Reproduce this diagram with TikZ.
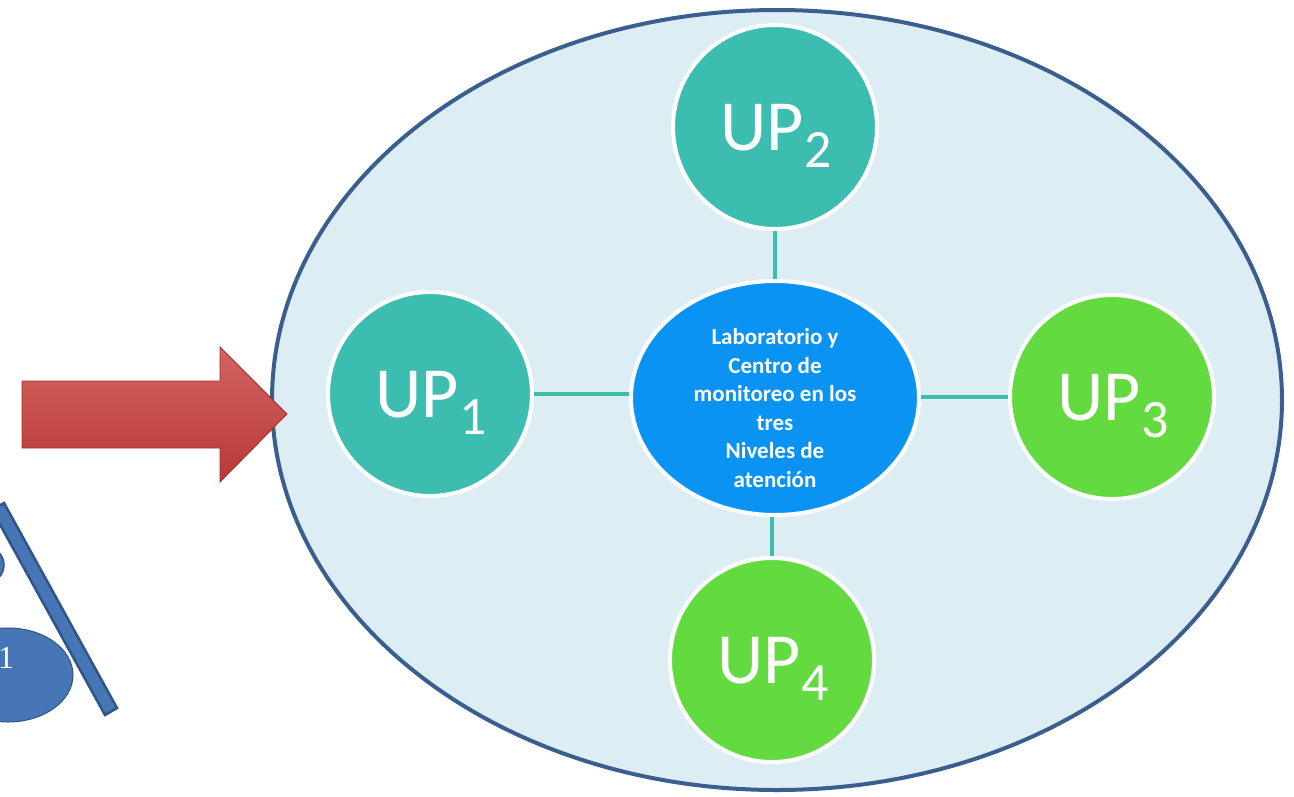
\documentclass[tikz,border=0pt]{standalone}
\usepackage{fontspec}
\setmainfont{Carlito}
\newfontfamily\serifone{Liberation Serif}
\usetikzlibrary{shapes.geometric}
\definecolor{bgblue}{HTML}{DCEEF3}
\definecolor{rimblue}{HTML}{3A5F8F}
\definecolor{teal}{HTML}{3CBDB0}
\definecolor{lime}{HTML}{62DA40}
\definecolor{hubblue}{HTML}{0A93F2}
\definecolor{arrowred}{HTML}{C83D3A}
\definecolor{arrowdark}{HTML}{9E2E2B}
\definecolor{bandblue}{HTML}{4776B6}
\definecolor{banddark}{HTML}{2F5588}
\tikzset{
  upcircle/.style={circle, minimum size=204pt, inner sep=0pt, draw=white, line width=4pt},
  uplabel/.style={text=white, font=\fontsize{72}{72}\selectfont, anchor=base, inner sep=0pt},
  link/.style={draw=teal, line width=4pt},
  hub/.style={ellipse, minimum width=288pt, minimum height=234pt, inner sep=0pt, fill=hubblue, draw=white, line width=4pt},
}
\newcommand{\upsub}[1]{UP\raisebox{-17pt}{\fontsize{54}{54}\selectfont #1}}
\begin{document}
\begin{tikzpicture}[x=1pt,y=-1pt]
\useasboundingbox (0,0) rectangle (1294,796);
\fill[white] (0,0) rectangle (1294,796);
% partial shapes at lower left
\draw[fill=bandblue, draw=banddark, line width=1.5pt] (-14,565) circle (18);
\draw[fill=bandblue, draw=banddark, line width=1pt] (8,675) ellipse (65 and 47);
\node[text=white, font=\serifone\fontsize{32}{32}\selectfont, anchor=base west, inner sep=0pt] (one) at (-2,668) {1};
\draw[fill=bandblue, draw=banddark, line width=2.5pt] (-8,510) -- (4,503) -- (117,708) -- (105,715) -- cycle;
% big ellipse
\node[ellipse, minimum width=1010pt, minimum height=780pt, inner sep=0pt, fill=bgblue, draw=rimblue, line width=4pt] (big) at (777,400) {};
% arrow
\draw[top color=arrowred!80!white, bottom color=arrowred!92!black, draw=arrowdark, line width=0.8pt]
  (22,381) -- (220,381) -- (220,347) -- (287,414) -- (220,482) -- (220,448) -- (22,448) -- cycle;
% hub
\node[hub] (hub) at (775,398) {};
\node[text=white, font=\bfseries\fontsize{23}{28.6}\selectfont, align=center, inner sep=0pt] (hubtext) at (775,408)
  {Laboratorio y\\Centro de\\monitoreo en los\\tres\\Niveles de\\atención};
% satellites
\node[upcircle, fill=teal] (up1) at (430,394) {};
\node[upcircle, fill=teal] (up2) at (775,127) {};
\node[upcircle, fill=lime] (up3) at (1112,397) {};
\node[upcircle, fill=lime] (up4) at (772,660) {};
\node[uplabel] (l1) at (431,417) {\upsub{1}};
\node[uplabel] (l2) at (776,150) {\upsub{2}};
\node[uplabel] (l3) at (1113,420) {\upsub{3}};
\node[uplabel] (l4) at (773,683) {\upsub{4}};
% links
\draw[link] (up2.south) -- (up2.south |- hub.north);
\draw[link] (up1.east) -- (up1.east -| hub.west);
\draw[link] (up3.west -| hub.east) -- (up3.west);
\draw[link] (up4.north |- hub.south) -- (up4.north);
\end{tikzpicture}
\end{document}
